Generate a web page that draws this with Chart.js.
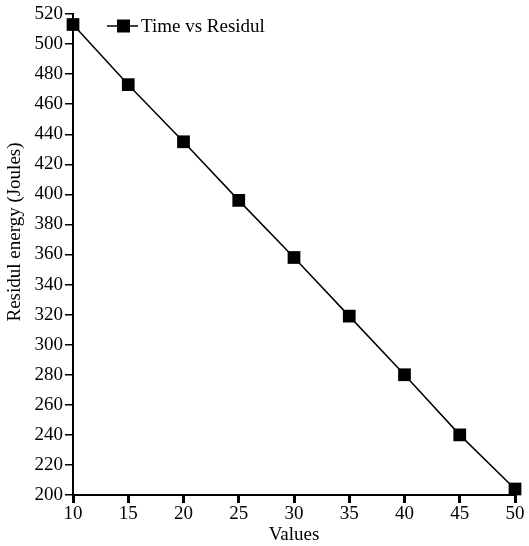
<!DOCTYPE html>
<html>
<head>
    <title>Time vs Residul</title>
    <script src="https://cdn.jsdelivr.net/npm/chart.js@4/dist/chart.umd.min.js"></script>
    <style>
        body { margin: 0; background: white; }
        #wrap { width: 529px; height: 546px; }
    </style>
</head>
<body>
    <div id="wrap"><canvas id="chart" width="529" height="546"></canvas></div>
    <script>
        // data
        const values = [10, 15, 20, 25, 30, 35, 40, 45, 50];
        const residual = [513, 473, 435, 396, 358, 319, 280, 240, 204];
        const seriesName = 'Time vs Residul';
        const yTitle = 'Residul energy (Joules)';

        const fontFamily = "'Liberation Serif', 'Times New Roman', serif";
        const font = { family: fontFamily, size: 19 };

        // legend inside the plot (top left) and the y title, which sits a bit above centre
        const extras = {
            id: 'extras',
            afterDraw(chart) {
                const ctx = chart.ctx;
                const y = 26;
                ctx.save();
                ctx.strokeStyle = '#000';
                ctx.lineWidth = 1.5;
                ctx.beginPath();
                ctx.moveTo(107, y);
                ctx.lineTo(138, y);
                ctx.stroke();
                ctx.fillStyle = '#000';
                ctx.fillRect(117, y - 6.5, 13, 13);
                ctx.font = '19px ' + fontFamily;
                ctx.textBaseline = 'middle';
                ctx.fillText(seriesName, 141, y + 1);

                ctx.translate(15, 232);
                ctx.rotate(-Math.PI / 2);
                ctx.textAlign = 'center';
                ctx.fillText(yTitle, 0, 0);
                ctx.restore();
            }
        };

        new Chart(document.getElementById('chart'), {
            type: 'line',
            data: {
                datasets: [{
                    label: seriesName,
                    data: values.map((v, i) => ({ x: v, y: residual[i] })),
                    borderColor: '#000',
                    borderWidth: 1.5,
                    pointStyle: 'rect',
                    pointRadius: 9,
                    pointBackgroundColor: '#000',
                    pointBorderWidth: 0,
                    clip: false
                }]
            },
            options: {
                responsive: false,
                animation: false,
                layout: { padding: { top: 14, right: 14, left: 0, bottom: 0 } },
                plugins: { legend: { display: false }, tooltip: { enabled: false } },
                scales: {
                    x: {
                        type: 'linear',
                        min: 10, max: 50,
                        ticks: { stepSize: 5, color: '#000', font: font, padding: 0 },
                        grid: { drawOnChartArea: false, color: '#000', lineWidth: 3, tickLength: 8 },
                        border: { color: '#000', width: 2 },
                        title: { display: true, text: 'Values', color: '#000', font: font, padding: 0 },
                        afterFit: s => { s.height = 51; }
                    },
                    y: {
                        min: 200, max: 520,
                        ticks: { stepSize: 20, color: '#000', font: font, padding: 2 },
                        grid: { drawOnChartArea: false, color: '#000', lineWidth: 1.5, tickLength: 8 },
                        border: { color: '#000', width: 2 },
                        afterFit: s => { s.width = 73; }
                    }
                }
            },
            plugins: [extras]
        });
    </script>
</body>
</html>
